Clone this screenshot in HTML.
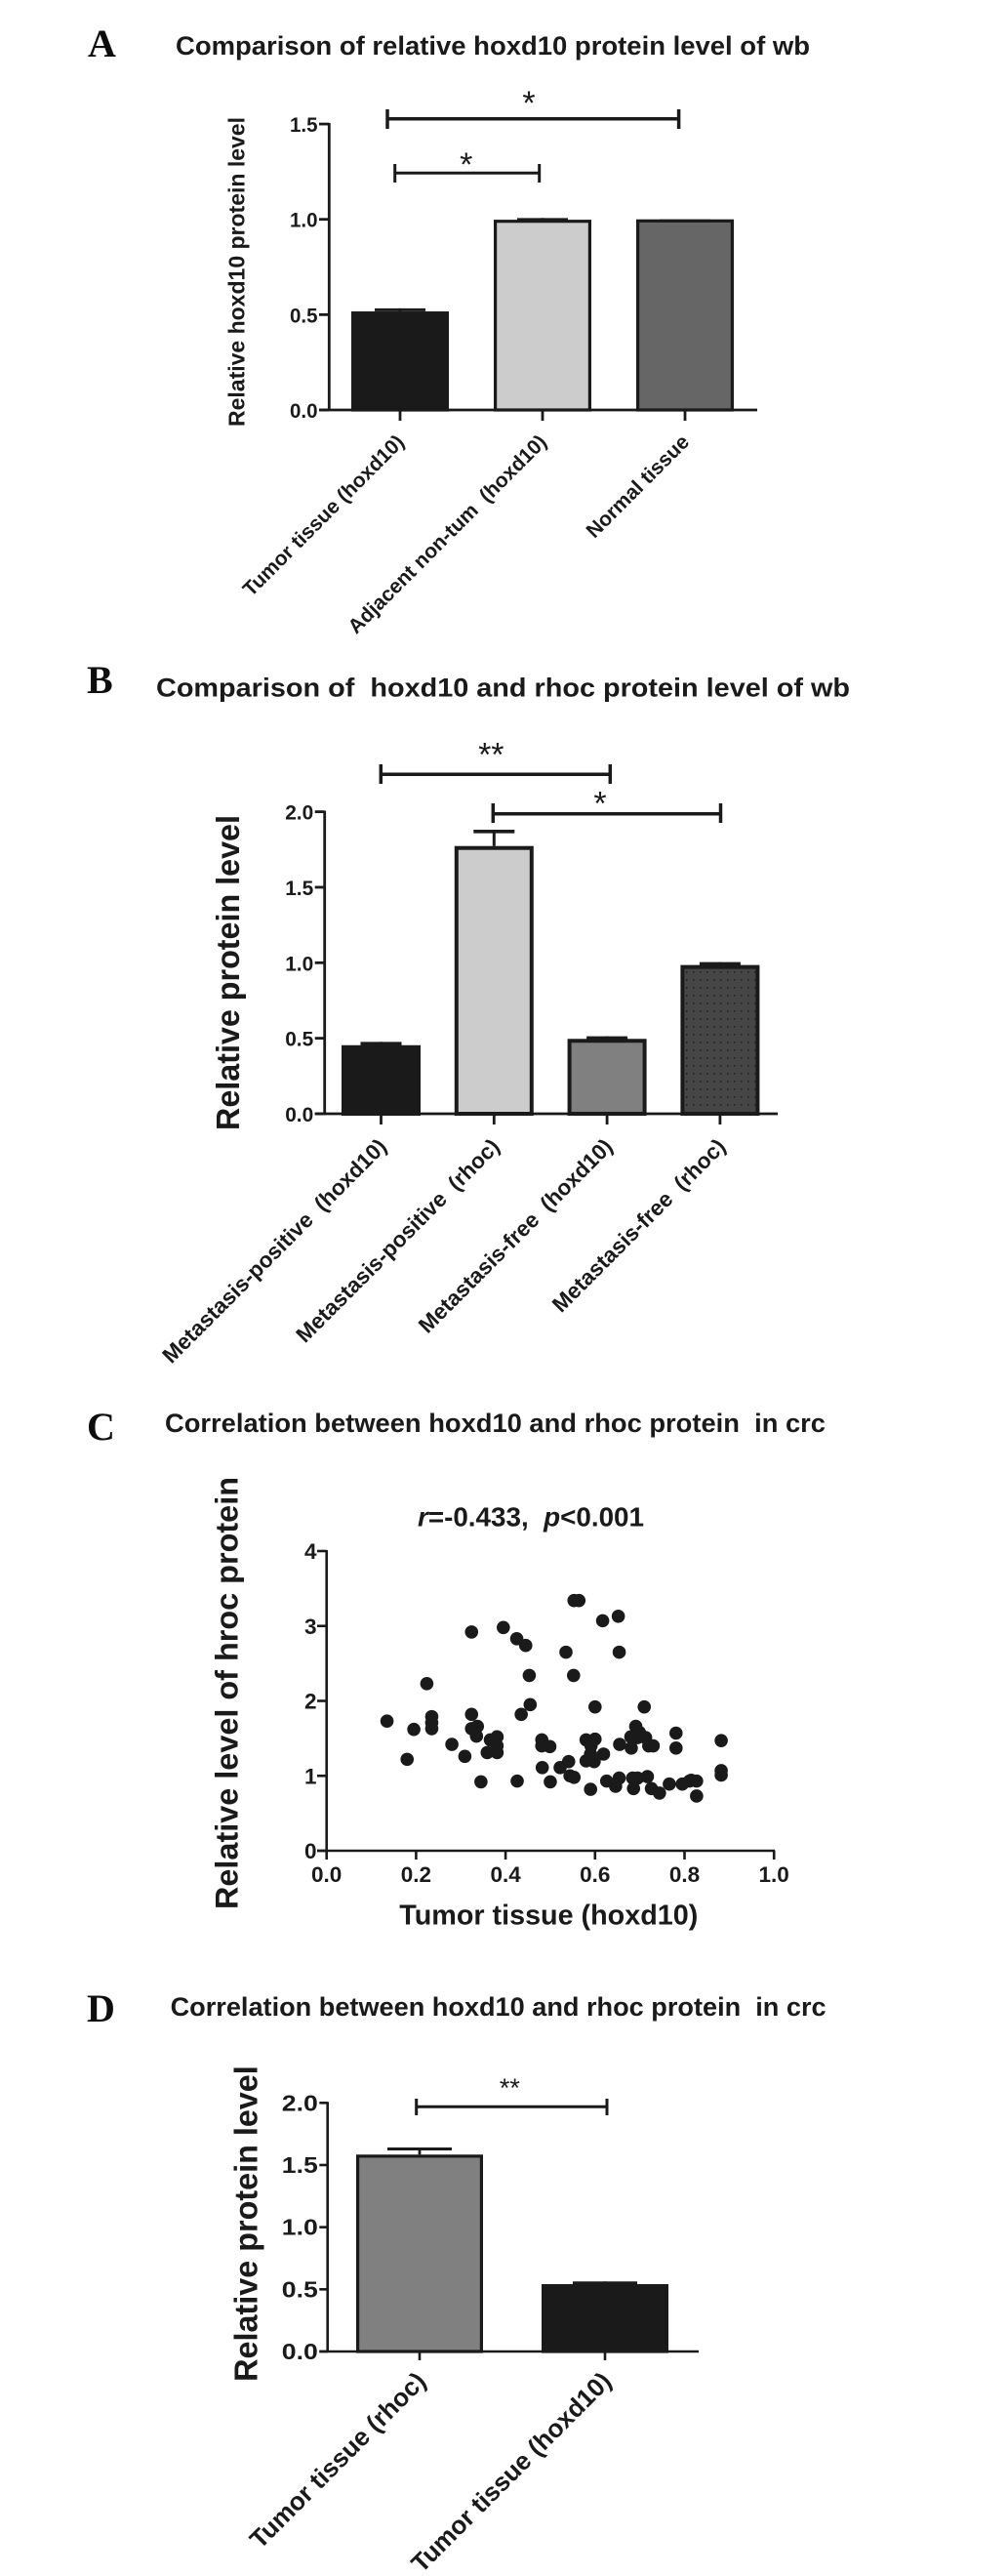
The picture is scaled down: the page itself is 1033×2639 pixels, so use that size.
<!DOCTYPE html>
<html lang="en">
<head>
<meta charset="utf-8">
<title>hoxd10 and rhoc protein level charts</title>
<style>
  html, body { margin: 0; padding: 0; background: #fff; }
  svg { display: block; }
  text { font-family: "Liberation Sans", sans-serif; font-weight: bold; fill: #1a1a1a; white-space: pre; }
  text.panel { font-family: "Liberation Serif", serif; font-size: 40px; fill: #0d0d0d; }
  text.star { font-weight: normal; }
  .ln { stroke: #1a1a1a; fill: none; stroke-linecap: butt; }
  .bar { stroke: #1a1a1a; }
  .a0 { fill: #1a1a1a; } .a1 { fill: #cccccc; } .a2 { fill: #666666; }
  .b0 { fill: #1a1a1a; } .b1 { fill: #cccccc; } .b2 { fill: #808080; } .b3 { fill: url(#dots); }
  .d0 { fill: #808080; } .d1 { fill: #1a1a1a; }
  .pt { fill: #1a1a1a; }
</style>
</head>
<body>
<svg id="fig" xmlns="http://www.w3.org/2000/svg" width="1033" height="2639" viewBox="0 0 1033 2639">
  <defs>
    <pattern id="dots" width="7" height="8" patternUnits="userSpaceOnUse">
      <rect width="7" height="8" fill="#464646"></rect>
      <rect x="3" y="3" width="1.6" height="1.6" fill="#222222"></rect>
    </pattern>
  </defs>

  <!-- Panel A static text -->
  <text class="panel" x="90" y="58">A</text>
  <text x="180" y="56" font-size="27" textLength="650" lengthAdjust="spacingAndGlyphs">Comparison of relative hoxd10 protein level of wb</text>
  <text transform="rotate(-90 250.7 278.5)" x="250.7" y="278.5" text-anchor="middle" font-size="23" textLength="317" lengthAdjust="spacingAndGlyphs">Relative hoxd10 protein level</text>
  <g>
    <line class="ln" stroke-width="3.5" x1="397" x2="695.6" y1="121.7" y2="121.7"></line>
    <line class="ln" stroke-width="3.5" x1="397" x2="397" y1="112" y2="132"></line>
    <line class="ln" stroke-width="3.5" x1="695.6" x2="695.6" y1="112" y2="132"></line>
  </g>
  <g>
    <line class="ln" stroke-width="3" x1="404.7" x2="552.7" y1="177.3" y2="177.3"></line>
    <line class="ln" stroke-width="3" x1="404.7" x2="404.7" y1="168" y2="187"></line>
    <line class="ln" stroke-width="3" x1="552.7" x2="552.7" y1="168" y2="187"></line>
  </g>
  <text class="star" x="542" y="117" font-size="34" text-anchor="middle">*</text>
  <text class="star" x="477.7" y="180" font-size="34" text-anchor="middle">*</text>

  <!-- Panel B static text -->
  <text class="panel" x="89" y="710">B</text>
  <text x="160" y="713.5" font-size="27" textLength="711" lengthAdjust="spacingAndGlyphs">Comparison of  hoxd10 and rhoc protein level of wb</text>
  <text transform="rotate(-90 245 996.5)" x="245" y="996.5" text-anchor="middle" font-size="33" textLength="323" lengthAdjust="spacingAndGlyphs">Relative protein level</text>
  <g>
    <line class="ln" stroke-width="3.5" x1="390.3" x2="625.3" y1="793.3" y2="793.3"></line>
    <line class="ln" stroke-width="3.5" x1="390.3" x2="390.3" y1="783" y2="803"></line>
    <line class="ln" stroke-width="3.5" x1="625.3" x2="625.3" y1="783" y2="803"></line>
  </g>
  <g>
    <line class="ln" stroke-width="3.5" x1="505.3" x2="738.5" y1="833.7" y2="833.7"></line>
    <line class="ln" stroke-width="3.5" x1="505.3" x2="505.3" y1="823" y2="843"></line>
    <line class="ln" stroke-width="3.5" x1="738.5" x2="738.5" y1="823" y2="843"></line>
  </g>
  <text class="star" x="503.3" y="784.5" font-size="34" text-anchor="middle">**</text>
  <text class="star" x="615" y="834.5" font-size="34" text-anchor="middle">*</text>

  <!-- Panel C static text -->
  <text class="panel" x="89" y="1475">C</text>
  <text x="169" y="1467" font-size="27" textLength="677" lengthAdjust="spacingAndGlyphs">Correlation between hoxd10 and rhoc protein  in crc</text>
  <text transform="rotate(-90 243.5 1734.5)" x="243.5" y="1734.5" text-anchor="middle" font-size="32.5" textLength="443" lengthAdjust="spacingAndGlyphs">Relative level of hroc protein</text>
  <text x="409.3" y="1971.7" font-size="28.5" textLength="306" lengthAdjust="spacingAndGlyphs">Tumor tissue (hoxd10)</text>
  <text x="428" y="1563.3" font-size="28" textLength="232" lengthAdjust="spacingAndGlyphs"><tspan font-style="italic">r</tspan>=-0.433,  <tspan font-style="italic">p</tspan>&lt;0.001</text>

  <!-- Panel D static text -->
  <text class="panel" x="89" y="2071">D</text>
  <text x="174.6" y="2065" font-size="27" textLength="672" lengthAdjust="spacingAndGlyphs">Correlation between hoxd10 and rhoc protein  in crc</text>
  <text transform="rotate(-90 263.3 2278)" x="263.3" y="2278" text-anchor="middle" font-size="33" textLength="323.6" lengthAdjust="spacingAndGlyphs">Relative protein level</text>
  <g>
    <line class="ln" stroke-width="3" x1="426.7" x2="622" y1="2158.3" y2="2158.3"></line>
    <line class="ln" stroke-width="3" x1="426.7" x2="426.7" y1="2150" y2="2167"></line>
    <line class="ln" stroke-width="3" x1="622" x2="622" y1="2150" y2="2167"></line>
  </g>
  <text class="star" x="522.4" y="2148" font-size="27" text-anchor="middle">**</text>

  <g id="chart-a"></g>
  <g id="chart-b"></g>
  <g id="chart-c"></g>
  <g id="chart-d"></g>
</svg>

<script>
// Chart A data
const aCategories = ['Tumor tissue (hoxd10)', 'Adjacent non-tum  (hoxd10)', 'Normal tissue'];
const aValues = [0.517, 0.998, 1.0];
const aErrorTops = [0.533, 1.007, 1.0];
const aTickLabels = ['0.0', '0.5', '1.0', '1.5'];

// Chart B data
const bCategories = ['Metastasis-positive  (hoxd10)', 'Metastasis-positive  (rhoc)', 'Metastasis-free  (hoxd10)', 'Metastasis-free  (rhoc)'];
const bValues = [0.454, 1.773, 0.496, 0.985];
const bErrorTops = [0.476, 1.881, 0.513, 1.004];
const bTickLabels = ['0.0', '0.5', '1.0', '1.5', '2.0'];

// Chart C data
const cXValues = [0.135, 0.18, 0.195, 0.224, 0.235, 0.235, 0.235, 0.28, 0.309, 0.324, 0.324, 0.324, 0.337, 0.335, 0.345, 0.366, 0.381, 0.359, 0.381, 0.381, 0.395, 0.425, 0.445, 0.453, 0.455, 0.435, 0.426, 0.481, 0.481, 0.499, 0.482, 0.5, 0.522, 0.541, 0.544, 0.553, 0.535, 0.552, 0.553, 0.564, 0.617, 0.652, 0.654, 0.6, 0.71, 0.58, 0.6, 0.591, 0.59, 0.58, 0.598, 0.619, 0.59, 0.626, 0.646, 0.654, 0.655, 0.681, 0.68, 0.691, 0.699, 0.695, 0.713, 0.72, 0.73, 0.684, 0.695, 0.717, 0.686, 0.726, 0.744, 0.766, 0.781, 0.781, 0.795, 0.811, 0.815, 0.827, 0.827, 0.882, 0.882, 0.882];
const cYValues = [1.73, 1.22, 1.62, 2.23, 1.79, 1.71, 1.63, 1.42, 1.26, 2.92, 1.82, 1.63, 1.66, 1.53, 0.92, 1.48, 1.52, 1.31, 1.31, 1.40, 2.98, 2.83, 2.74, 2.34, 1.95, 1.82, 0.93, 1.48, 1.40, 1.39, 1.11, 0.92, 1.11, 1.19, 1.0, 0.98, 2.65, 2.34, 3.34, 3.34, 3.07, 3.13, 2.65, 1.92, 1.92, 1.48, 1.49, 1.40, 1.29, 1.20, 1.19, 1.29, 0.82, 0.93, 0.86, 0.97, 1.42, 1.37, 1.52, 1.66, 1.58, 1.51, 1.51, 1.40, 1.40, 0.97, 0.97, 0.99, 0.83, 0.83, 0.77, 0.89, 1.57, 1.37, 0.89, 0.93, 0.94, 0.93, 0.73, 1.47, 1.07, 1.01];
const cXTickLabels = ['0.0', '0.2', '0.4', '0.6', '0.8', '1.0'];
const cYTickLabels = ['0', '1', '2', '3', '4'];

// Chart D data
const dCategories = ['Tumor tissue (rhoc)', 'Tumor tissue (hoxd10)'];
const dValues = [1.584, 0.542];
const dErrorTops = [1.641, 0.563];
const dTickLabels = ['0.0', '0.5', '1.0', '1.5', '2.0'];

const NS = 'http://www.w3.org/2000/svg';

function mk(parent, tag, attrs) {
  const el = document.createElementNS(NS, tag);
  for (const k in attrs) el.setAttribute(k, attrs[k]);
  parent.appendChild(el);
  return el;
}

function linearScale(origin, pixelsPerUnit) {
  return function (v) { return origin + v * pixelsPerUnit; };
}

function drawBarChart(o) {
  const g = document.getElementById(o.id);
  const y = linearScale(o.axisY, -o.unit);
  const x = linearScale(o.firstCenter, o.step);
  const top = Number(o.tickLabels[o.tickLabels.length - 1]);

  o.values.forEach(function (v, i) {
    const cx = x(i);
    const errY = y(o.errors[i]);
    const stem = mk(g, 'line', { class: 'ln', 'stroke-width': o.stemWidth, x1: cx, x2: cx, y1: errY, y2: y(v) });
    
    
    const cap = mk(g, 'line', { class: 'ln', 'stroke-width': o.capStroke, x1: cx - o.capWidth / 2, x2: cx + o.capWidth / 2, y1: errY + o.capStroke / 2, y2: errY + o.capStroke / 2 });
    
    
    const bar = mk(g, 'rect', {
      class: 'bar ' + o.prefix + i,
      'stroke-width': o.barStroke,
      x: cx - o.barWidth / 2 + o.barStroke / 2,
      y: y(v) + o.barStroke / 2,
      width: o.barWidth - o.barStroke,
      height: Math.max(0, o.axisY - y(v) - o.barStroke / 2)
    });
    
    

    const tick = mk(g, 'line', { class: 'ln', 'stroke-width': o.axisWidth, x1: cx, x2: cx, y1: o.axisY, y2: o.axisY + o.tickLen + 1 });
    
    

    const lx = cx + o.labelDx;
    const ly = o.axisY + o.labelDy;
    const label = mk(g, 'text', { x: lx, y: ly, 'text-anchor': 'end', 'font-size': o.labelSize, transform: 'rotate(-45 ' + lx + ' ' + ly + ')' });
    label.textContent = o.categories[i];
    
    
  });

  const yAxis = mk(g, 'line', { class: 'ln', 'stroke-width': o.axisWidth, x1: o.axisX, x2: o.axisX, y1: y(top) - 1, y2: o.axisY });
  
  
  const xAxis = mk(g, 'line', { class: 'ln', 'stroke-width': o.axisWidth, x1: o.tickLeft, x2: o.xEnd, y1: o.axisY, y2: o.axisY });
  
  

  o.tickLabels.forEach(function (t) {
    const ty = y(Number(t));
    const tick = mk(g, 'line', { class: 'ln', 'stroke-width': o.axisWidth, x1: o.tickLeft, x2: o.axisX, y1: ty, y2: ty });
    
    
    const attrs = { x: o.tickLeft - 1.5, y: ty + 8, 'text-anchor': 'end', 'font-size': o.tickSize };
    if (o.tickTextLength) { attrs.textLength = o.tickTextLength; attrs.lengthAdjust = 'spacingAndGlyphs'; }
    const label = mk(g, 'text', attrs);
    label.textContent = t;
    
    
  });
}

drawBarChart({
  id: 'chart-a', prefix: 'a', categories: aCategories, values: aValues, errors: aErrorTops, tickLabels: aTickLabels,
  axisY: 420, unit: 195.3, axisX: 337.3, tickLeft: 327, xEnd: 776, firstCenter: 410, step: 146,
  barWidth: 100, barStroke: 3.2, capWidth: 52, capStroke: 3, stemWidth: 3, axisWidth: 2.8, tickLen: 10,
  labelDx: 5.5, labelDy: 34, labelSize: 21, tickSize: 21, tickTextLength: 28.5
});

drawBarChart({
  id: 'chart-b', prefix: 'b', categories: bCategories, values: bValues, errors: bErrorTops, tickLabels: bTickLabels,
  axisY: 1141, unit: 154.7, axisX: 332.7, tickLeft: 322.7, xEnd: 797, firstCenter: 390.5, step: 115.8,
  barWidth: 81, barStroke: 4, capWidth: 42, capStroke: 3.6, stemWidth: 3, axisWidth: 2.8, tickLen: 10,
  labelDx: 7, labelDy: 35, labelSize: 22.5, tickSize: 21.5, tickTextLength: 29
});

drawBarChart({
  id: 'chart-d', prefix: 'd', categories: dCategories, values: dValues, errors: dErrorTops, tickLabels: dTickLabels,
  axisY: 2409, unit: 127.35, axisX: 335.7, tickLeft: 327.3, xEnd: 716, firstCenter: 430, step: 190,
  barWidth: 130, barStroke: 3.2, capWidth: 66, capStroke: 3, stemWidth: 2.8, axisWidth: 2.6, tickLen: 8,
  labelDx: 8, labelDy: 32, labelSize: 26, tickSize: 23, tickTextLength: 37
});

// Chart C scatter
(function () {
  const g = document.getElementById('chart-c');
  const x = linearScale(334.7, 458.5);
  const y = linearScale(1896, -76.75);

  cXValues.forEach(function (v, i) {
    const dot = mk(g, 'circle', { class: 'pt', cx: x(v), cy: y(cYValues[i]), r: 6.8 });
    
    
  });

  const xEnd = Number(cXTickLabels[cXTickLabels.length - 1]);
  const yEnd = Number(cYTickLabels[cYTickLabels.length - 1]);
  const yAxis = mk(g, 'line', { class: 'ln', 'stroke-width': 2.6, x1: x(0), x2: x(0), y1: y(yEnd) - 1, y2: y(0) });
  
  
  const xAxis = mk(g, 'line', { class: 'ln', 'stroke-width': 2.6, x1: 325, x2: x(xEnd) + 1, y1: y(0), y2: y(0) });
  
  

  cXTickLabels.forEach(function (t) {
    const tx = x(Number(t));
    const tick = mk(g, 'line', { class: 'ln', 'stroke-width': 2.6, x1: tx, x2: tx, y1: y(0), y2: y(0) + 9 });
    
    
    const label = mk(g, 'text', { x: tx, y: 1928, 'text-anchor': 'middle', 'font-size': 22.5 });
    label.textContent = t;
    
    
  });

  cYTickLabels.forEach(function (t) {
    const ty = y(Number(t));
    const tick = mk(g, 'line', { class: 'ln', 'stroke-width': 2.6, x1: 325, x2: x(0), y1: ty, y2: ty });
    
    
    const label = mk(g, 'text', { x: 324.5, y: ty + 8, 'text-anchor': 'end', 'font-size': 22.5 });
    label.textContent = t;
    
    
  });
})();
</script>
</body>
</html>
